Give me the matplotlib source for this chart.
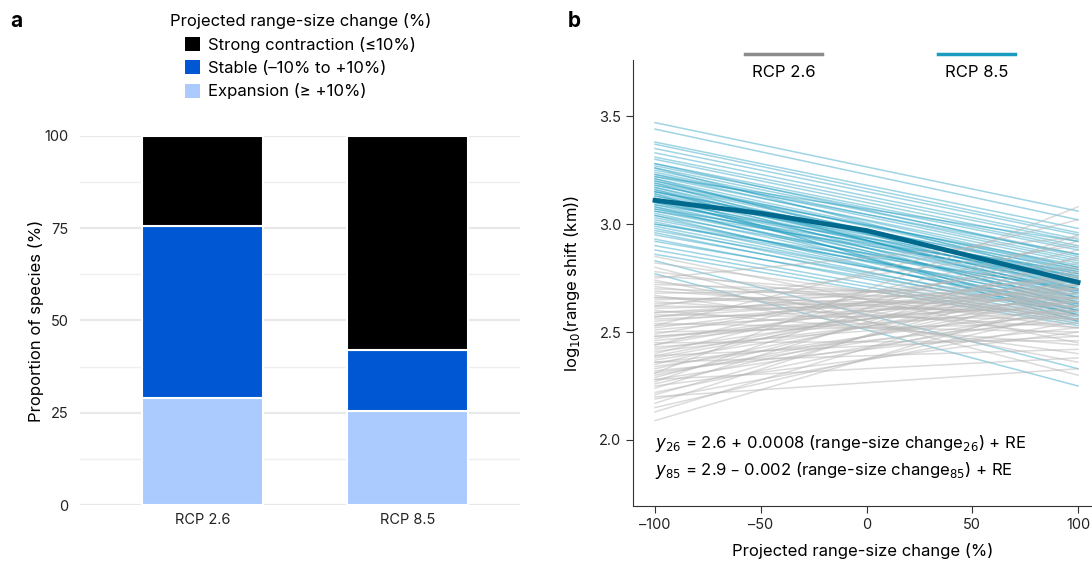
import matplotlib.pyplot as plt
from matplotlib.patches import Patch
from matplotlib.lines import Line2D

plt.rcParams['font.family'] = ['Inter', 'DejaVu Sans']

# panel a data
scenarios = ['RCP 2.6', 'RCP 8.5']
expansion = [29.0, 25.5]
stable = [46.5, 16.5]
contraction = [24.5, 58.0]

# panel b data: per-species fitted lines, value at -100% and +100% range-size change
x_ends = [-100, 100]
rcp85_start = [3.47, 3.44, 3.38, 3.37, 3.35, 3.33, 3.31, 3.30, 3.28, 3.28, 3.27, 3.26,
               3.25, 3.24, 3.23, 3.22, 3.21, 3.20, 3.20, 3.19, 3.18, 3.17, 3.16, 3.15,
               3.15, 3.14, 3.13, 3.12, 3.11, 3.10, 3.10, 3.09, 3.08, 3.07, 3.06, 3.05,
               3.04, 3.03, 3.02, 3.01, 3.00, 2.99, 2.98, 2.97, 2.96, 2.95, 2.93, 2.92,
               2.90, 2.88, 2.86, 2.83, 2.77, 3.18, 3.13, 3.08, 3.22, 3.19, 3.12, 3.06,
               3.16, 3.21, 3.09, 3.14, 3.26, 3.17, 3.11, 3.04, 3.00, 3.23, 3.15, 3.07]
rcp85_end = [3.06, 3.02, 2.98, 2.96, 2.95, 2.93, 2.92, 2.90, 2.89, 2.85, 2.88, 2.86,
             2.84, 2.83, 2.80, 2.82, 2.79, 2.78, 2.74, 2.80, 2.77, 2.75, 2.72, 2.76,
             2.70, 2.73, 2.71, 2.69, 2.74, 2.68, 2.72, 2.66, 2.70, 2.65, 2.67, 2.63,
             2.69, 2.62, 2.64, 2.60, 2.66, 2.61, 2.58, 2.63, 2.57, 2.60, 2.56, 2.59,
             2.55, 2.54, 2.53, 2.33, 2.25, 2.81, 2.77, 2.60, 2.92, 2.66, 2.58, 2.74,
             2.62, 2.70, 2.78, 2.55, 2.75, 2.68, 2.64, 2.58, 2.70, 2.86, 2.79, 2.76]
rcp26_start = [2.09, 2.13, 2.15, 2.17, 2.19, 2.21, 2.22, 2.24, 2.25, 2.26, 2.27, 2.28,
               2.29, 2.30, 2.31, 2.32, 2.33, 2.34, 2.35, 2.36, 2.37, 2.38, 2.39, 2.40,
               2.41, 2.42, 2.43, 2.44, 2.45, 2.46, 2.47, 2.48, 2.49, 2.50, 2.51, 2.52,
               2.53, 2.54, 2.55, 2.56, 2.57, 2.58, 2.59, 2.60, 2.61, 2.62, 2.63, 2.64,
               2.65, 2.66, 2.67, 2.68, 2.69, 2.70, 2.71, 2.72, 2.73, 2.74, 2.76, 2.78,
               2.80, 2.82, 2.85, 2.75, 2.62, 2.53, 2.44, 2.36, 2.28, 2.20, 2.48, 2.57,
               2.66, 2.39, 2.31, 2.59]
rcp26_end = [2.66, 2.72, 2.60, 2.80, 2.55, 2.75, 2.62, 2.85, 2.50, 2.70, 2.95, 2.58,
             2.78, 2.66, 3.08, 2.52, 2.72, 2.62, 2.82, 2.56, 2.68, 2.74, 2.48, 2.88,
             2.64, 2.70, 2.58, 2.78, 2.46, 2.66, 2.72, 2.60, 2.84, 2.54, 2.68, 2.76,
             2.62, 2.50, 2.70, 2.64, 2.80, 2.56, 2.72, 2.44, 2.66, 2.60, 2.74, 2.52,
             2.68, 2.62, 2.40, 2.70, 2.56, 2.64, 2.48, 2.66, 2.58, 2.36, 2.62, 2.52,
             2.30, 2.56, 2.45, 2.94, 2.90, 3.02, 2.92, 2.42, 2.38, 2.33, 2.64, 2.70,
             2.58, 2.76, 2.60, 2.66]
mean_x = [-100, -50, 0, 50, 100]
rcp85_mean = [3.11, 3.05, 2.97, 2.85, 2.73]

fig = plt.figure(figsize=(10.92, 5.61), dpi=100)

# ---- panel a ----
ax1 = fig.add_axes([0.073, 0.0998, 0.403, 0.658])
xpos = [0, 1]
w = 0.59
ax1.bar(xpos, expansion, w, color='#abcbff', edgecolor='white', linewidth=1.5, zorder=3)
ax1.bar(xpos, stable, w, bottom=expansion, color='#0057d4', edgecolor='white', linewidth=1.5, zorder=3)
bot = [a + b for a, b in zip(expansion, stable)]
ax1.bar(xpos, contraction, w, bottom=bot, color='black', edgecolor='white', linewidth=1.5, zorder=3)
ax1.set_xlim(-0.6, 1.55)
ax1.set_ylim(0, 100)
ax1.set_yticks([0, 25, 50, 75, 100])
ax1.set_yticks([12.5, 37.5, 62.5, 87.5], minor=True)
ax1.set_xticks(xpos)
ax1.set_xticklabels(scenarios)
ax1.grid(axis='y', which='major', color='#e8e8e8', linewidth=1.6, zorder=0)
ax1.grid(axis='y', which='minor', color='#efefef', linewidth=1.0, zorder=0)
for s in ax1.spines.values():
    s.set_visible(False)
ax1.tick_params(axis='both', which='both', length=0, labelsize=10.5, colors='#222222')
ax1.tick_params(axis='y', pad=8)
ax1.tick_params(axis='x', pad=6)
ax1.set_ylabel('Proportion of species (%)', fontsize=12, labelpad=0)

handles = [Patch(facecolor='black'), Patch(facecolor='#0057d4'), Patch(facecolor='#abcbff')]
labels = ['Strong contraction (≤10%)', 'Stable (–10% to +10%)', 'Expansion (≥ +10%)']
leg = fig.legend(handles, labels, title='Projected range-size change (%)', loc='upper left',
                 bbox_to_anchor=(0.142, 1.003), frameon=False, fontsize=12, title_fontsize=12,
                 handlelength=0.9, handleheight=0.9, handletextpad=0.5, labelspacing=0.45)

# ---- panel b ----
ax2 = fig.add_axes([0.5797, 0.098, 0.4203, 0.795])
for s, e in zip(rcp85_start, rcp85_end):
    ax2.plot(x_ends, [s, e], color='#1a9bbf', alpha=0.42, linewidth=1.1, zorder=2)
for s, e in zip(rcp26_start, rcp26_end):
    ax2.plot(x_ends, [s, e], color='#b8b8b8', alpha=0.5, linewidth=1.1, zorder=2)
ax2.plot(mean_x, rcp85_mean, color='#006a8e', linewidth=3.5, zorder=4)
ax2.set_xlim(-110.4, 106.6)
ax2.set_ylim(1.694, 3.76)
ax2.set_xticks([-100, -50, 0, 50, 100])
ax2.set_xticklabels(['–100', '–50', '0', '50', '100'])
ax2.set_yticks([2.0, 2.5, 3.0, 3.5])
ax2.spines['top'].set_visible(False)
ax2.spines['right'].set_visible(False)
ax2.spines['left'].set_color('#333333')
ax2.spines['bottom'].set_color('#333333')
ax2.tick_params(direction='out', length=5, color='#333333', labelsize=10.5, labelcolor='#222222')
ax2.set_xlabel('Projected range-size change (%)', fontsize=12, labelpad=8)
ax2.set_ylabel('log$_{10}$(range shift (km))', fontsize=12, labelpad=12)

ax2.text(-100, 1.985, r'$y_{26}$ = 2.6 + 0.0008 (range-size change$_{26}$) + RE', fontsize=12,
         va='center', ha='left')
ax2.text(-100, 1.86, r'$y_{85}$ = 2.9 – 0.002 (range-size change$_{85}$) + RE', fontsize=12,
         va='center', ha='left')

# legend for panel b: line above label
for x0, x1, c, lab in [(0.244, 0.412, '#8c8c8c', 'RCP 2.6'), (0.664, 0.832, '#1a9bbf', 'RCP 8.5')]:
    ax2.add_line(Line2D([x0, x1], [1.013, 1.013], transform=ax2.transAxes, color=c,
                        linewidth=2.5, clip_on=False))
    ax2.text((x0 + x1) / 2, 0.971, lab, transform=ax2.transAxes, ha='center', va='center',
             fontsize=12)

fig.text(0.009, 0.962, 'a', fontsize=15, fontweight='bold', va='center')
fig.text(0.52, 0.962, 'b', fontsize=15, fontweight='bold', va='center')

fig.savefig('out.png', dpi=100)
